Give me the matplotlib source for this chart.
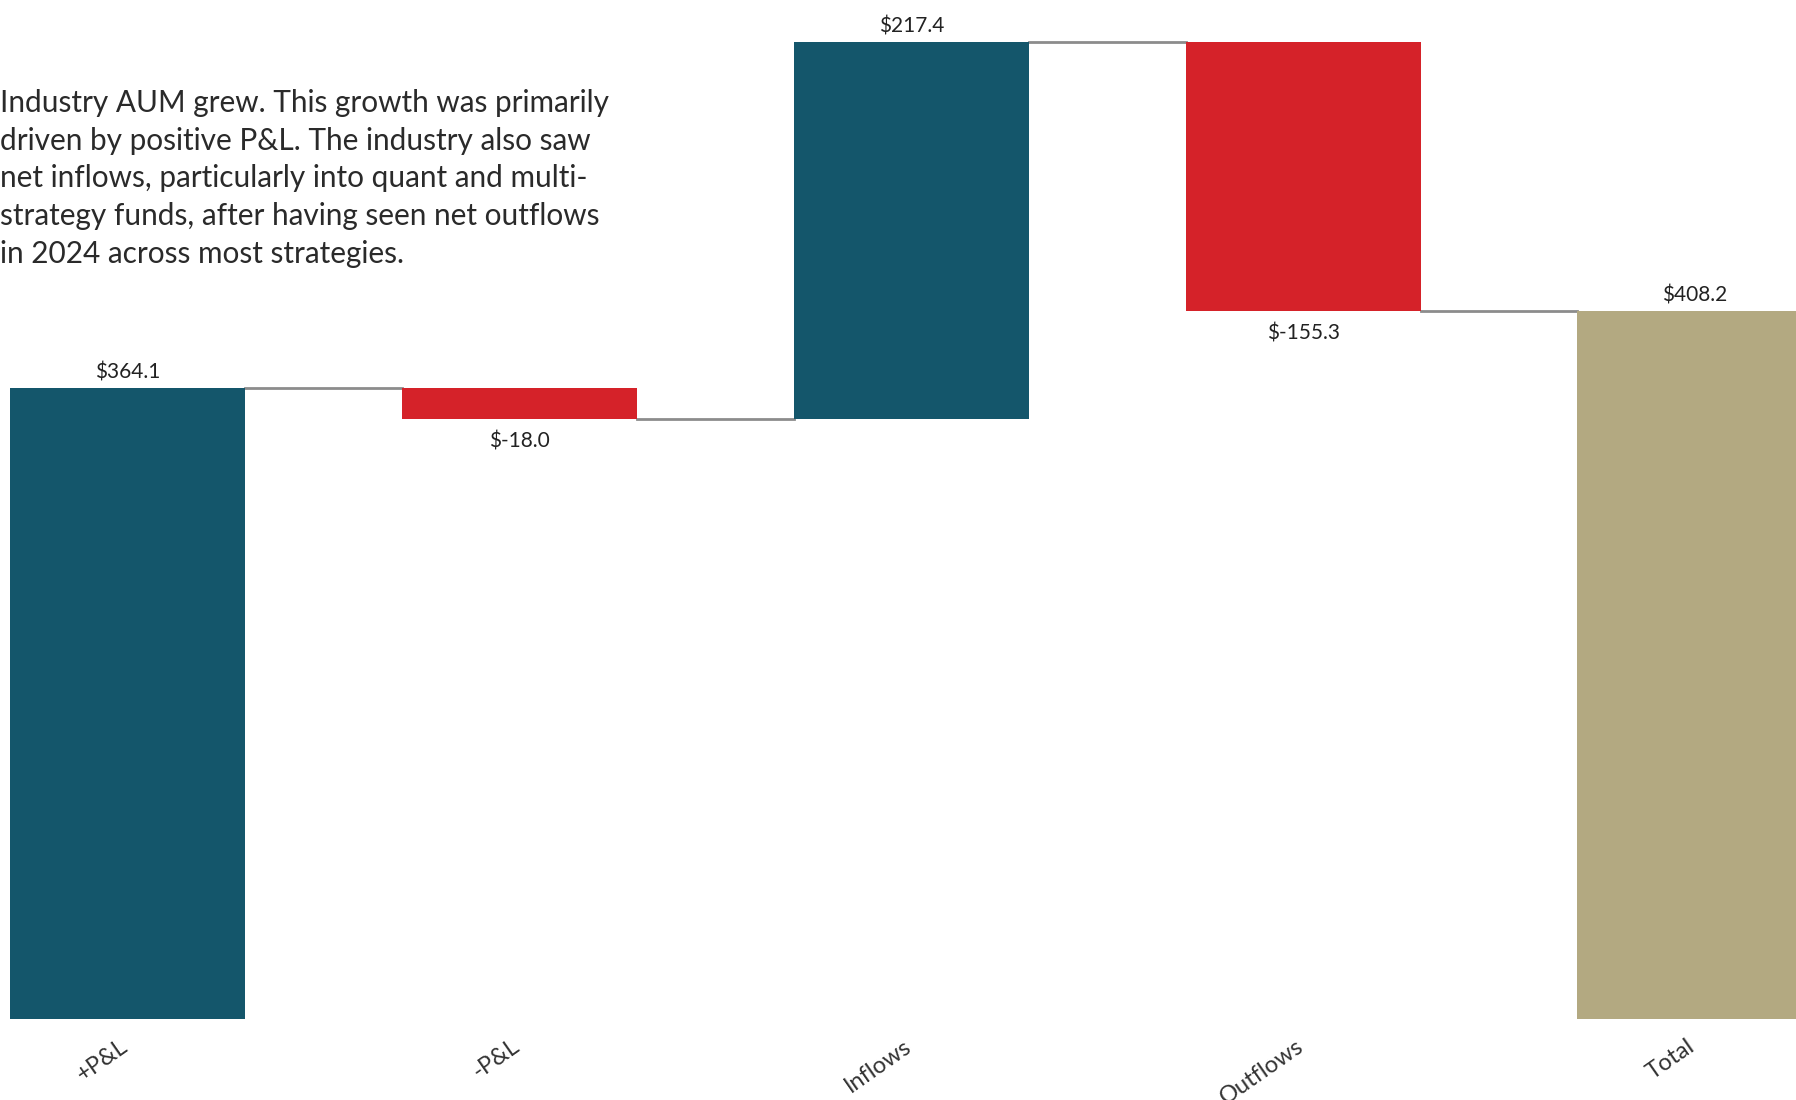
import numpy as np
import matplotlib.pyplot as plt
import matplotlib.transforms as mtransforms

categories = ['+P&L', '-P&L', 'Inflows', 'Outflows', 'Total']
changes = [364.1, -18.0, 217.4, -155.3]
total = 408.2
value_labels = ['$364.1', '$-18.0', '$217.4', '$-155.3', '$408.2']

teal = '#14566b'
red = '#d52229'
tan = '#b3a981'
grey = '#8c8c8c'

note = ("Industry AUM grew. This growth was primarily\n"
        "driven by positive P&L. The industry also saw\n"
        "net inflows, particularly into quant and multi-\n"
        "strategy funds, after having seen net outflows\n"
        "in 2024 across most strategies.")

plt.rcParams['font.family'] = ['Lato', 'DejaVu Sans']

fig = plt.figure(figsize=(17.96, 11), dpi=100)
ax = fig.add_axes([0, 81 / 1100, 1, 1019 / 1100])

x = np.arange(len(categories))
w = 0.6
ends = np.cumsum(changes)
starts = ends - np.array(changes)

bottoms = list(starts) + [0]
heights = list(changes) + [total]
colors = [teal if c > 0 else red for c in changes] + [tan]
ax.bar(x, heights, bottom=bottoms, width=w, color=colors, linewidth=0)

# connectors between bars
levels = list(ends)
for i, lv in enumerate(levels):
    ax.plot([i + w / 2, i + 1 - w / 2], [lv, lv], color=grey, lw=2, zorder=0)

# value labels
tops = [b + h for b, h in zip(bottoms, heights)]
for i, lab in enumerate(value_labels):
    if heights[i] >= 0:
        y = max(bottoms[i], tops[i])
        ax.annotate(lab, (x[i], y), xytext=(0, 4), textcoords='offset points',
                    ha='center', va='bottom', fontsize=15, color='#222222')
    else:
        y = min(bottoms[i], tops[i])
        ax.annotate(lab, (x[i], y), xytext=(0, -9), textcoords='offset points',
                    ha='center', va='top', fontsize=15, color='#222222')

ax.set_xlim(-0.326, 4.258)
ax.set_ylim(0, 587.7)
ax.set_xticks(x)
ax.set_xticklabels(categories, rotation=35, ha='right', rotation_mode='anchor',
                   fontsize=17, color='#333333')
ax.tick_params(axis='x', length=0, pad=12)
shift = mtransforms.ScaledTranslation(-6 / 72, 0, fig.dpi_scale_trans)
for t in ax.get_xticklabels():
    t.set_transform(t.get_transform() + shift)
ax.set_yticks([])
for s in ax.spines.values():
    s.set_visible(False)

fig.text(0.0, 1 - 89 / 1100, note, ha='left', va='top', fontsize=21.4,
         color='#2a2a2a', linespacing=1.42)

fig.savefig('out.png', dpi=100)
